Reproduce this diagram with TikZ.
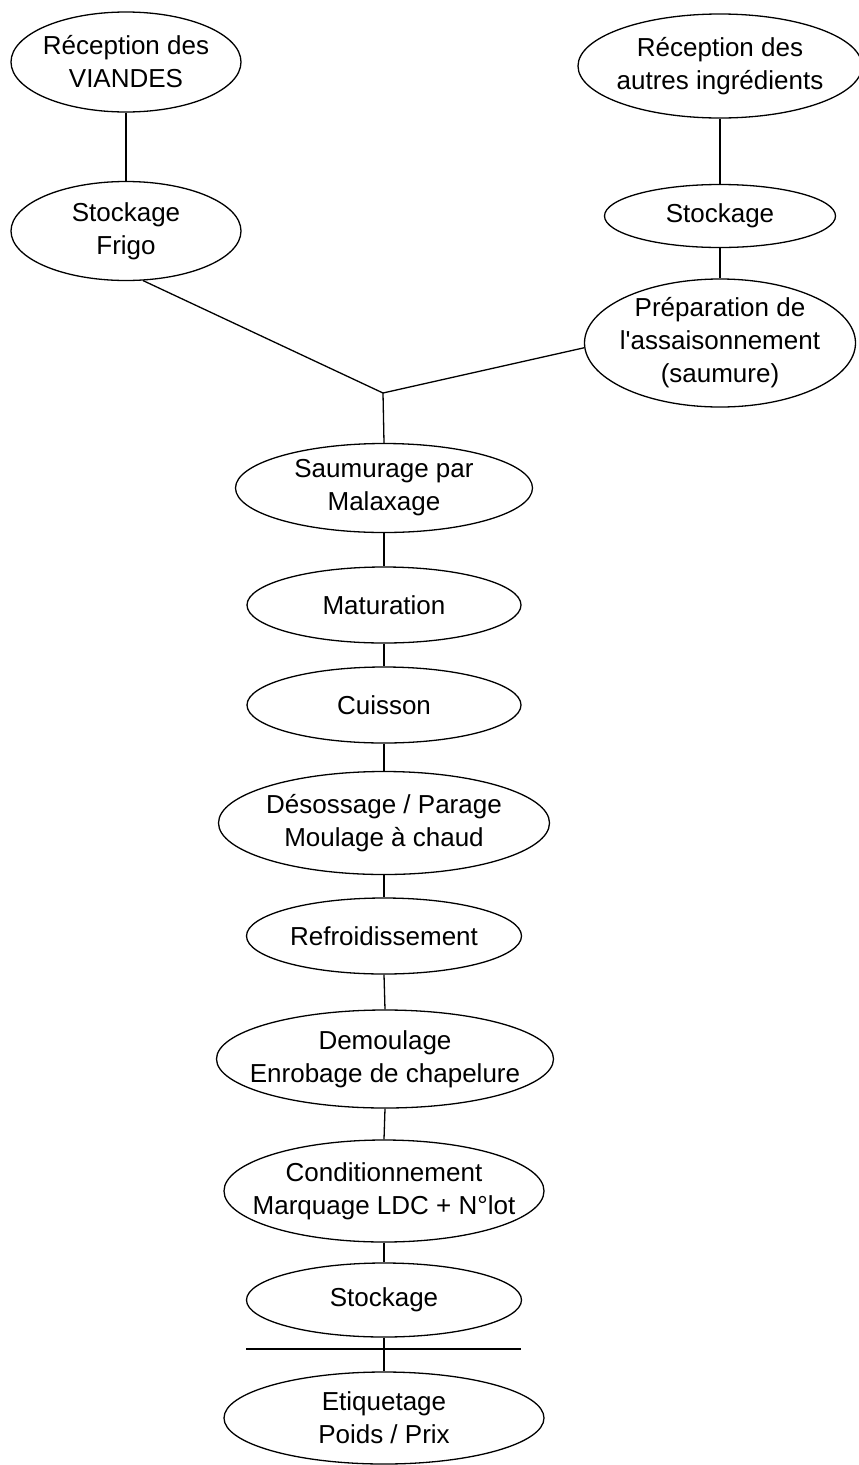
\documentclass[tikz,border=0pt]{standalone}
\usepackage{fontspec}
\setmainfont{Liberation Sans}[Ligatures=TeXOff]
\usetikzlibrary{shapes.geometric}

\tikzset{
  lbl/.style={align=center, inner sep=0pt, font=\fontsize{26}{33}\selectfont},
  oval/.style n args={3}{ellipse, draw, line width=1.3pt, inner sep=0pt,
    minimum width=#1, minimum height=#2, label={[lbl]center:{#3}}},
  link/.style={line width=1.3pt},
  bar/.style={line width=1.9pt}
}

\begin{document}
\begin{tikzpicture}[x=1pt, y=-1pt]
  \useasboundingbox (0,0) rectangle (859,1465);

  % left branch: meat
  \node[oval={230pt}{100pt}{Réception des\\VIANDES}] (viandes) at (126,62) {};
  \node[oval={230pt}{99pt}{Stockage\\Frigo}] (frigo) at (126,231) {};

  % right branch: other ingredients
  \node[oval={284pt}{104pt}{Réception des\\autres ingrédients}] (autres) at (720,66) {};
  \node[oval={231pt}{63pt}{Stockage}] (stockA) at (720,216) {};
  \node[oval={271pt}{128pt}{Préparation de\\l'assaisonnement\\(saumure)}] (prep) at (720,343) {};

  % junction of both branches
  \coordinate (j) at (383,393);

  % main line
  \node[oval={297pt}{89pt}{Saumurage par\\Malaxage}] (saum) at (384,488) {};
  \node[oval={274pt}{76pt}{Maturation}] (matur) at (384,605) {};
  \node[oval={274pt}{76pt}{Cuisson}] (cuis) at (384,705) {};
  \node[oval={331pt}{103pt}{Désossage / Parage\\Moulage à chaud}] (desos) at (384,823) {};
  \node[oval={275pt}{76pt}{Refroidissement}] (refroid) at (384,936) {};
  \node[oval={337pt}{98pt}{Demoulage\\Enrobage de chapelure}] (demoul) at (385,1059) {};
  \node[oval={320pt}{102pt}{Conditionnement\\Marquage LDC + N°lot}] (cond) at (384,1191) {};
  \node[oval={275pt}{74pt}{Stockage}] (stockB) at (384,1300) {};
  \node[oval={320pt}{92pt}{Etiquetage\\Poids / Prix}] (etiq) at (384,1418) {};

  % separation bar
  \coordinate (barL) at (246,1349);
  \coordinate (barR) at (521,1349);

  % connectors
  \draw[link] (viandes.south) -- (frigo.north);
  \draw[link] (autres.south) -- (stockA.north);
  \draw[link] (stockA.south) -- (prep.north);
  \draw[link] (frigo.-71) -- (j);
  \draw[link] (prep.182) -- (j);
  \draw[link] (j) -- (saum.north);
  \draw[link] (saum.south) -- (matur.north);
  \draw[link] (matur.south) -- (cuis.north);
  \draw[link] (cuis.south) -- (desos.north);
  \draw[link] (desos.south) -- (refroid.north);
  \draw[link] (refroid.south) -- (demoul.north);
  \draw[link] (demoul.south) -- (cond.north);
  \draw[link] (cond.south) -- (stockB.north);
  \draw[link] (stockB.south) -- (etiq.north);
  \draw[bar] (barL) -- (barR);
\end{tikzpicture}
\end{document}
